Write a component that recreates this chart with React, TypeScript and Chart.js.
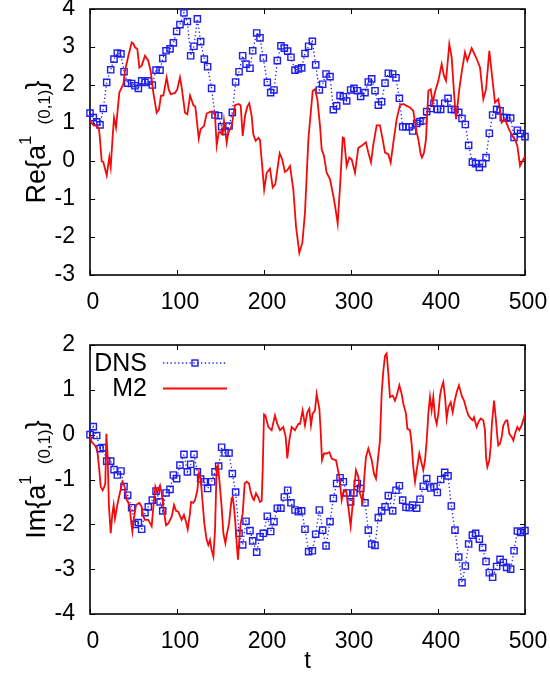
import React, { useEffect, useRef } from 'react';
import { Chart, registerables } from 'chart.js';
Chart.register(...registerables);

// ---------- data ----------
const dnsT = [
  0, 3.8, 7.7, 11.5, 15.3, 19.2, 23.8, 27.6, 31.4, 35.6,
  39.1, 43.3, 47.9, 51.7, 55.6, 59.4, 63.2, 67.0, 71.6, 75.9,
  80.5, 83.6, 87.4, 92.0, 95.8, 99.6, 103.4, 108.0, 111.9, 115.7,
  119.5, 123.4, 127.2, 131.4, 135.2, 139.8, 143.7, 147.9, 151.3, 155.2,
  159.8, 163.6, 167.4, 171.3, 175.5, 179.3, 183.9, 187.0, 191.6, 195.4,
  199.2, 203.8, 207.7, 211.5, 215.3, 219.5, 223.4, 227.2, 231.0, 235.6,
  239.5, 243.3, 247.1, 251.3,
  255.6, 259.4, 263.6, 267.4, 271.3, 275.9, 279.7, 283.5, 287.4, 291.2,
  295.0, 299.6, 303.4, 307.3, 311.1, 316.1, 319.9, 323.8, 327.6, 331.4,
  335.2, 339.1, 342.9, 347.9, 351.7, 355.6, 359.4, 363.2, 367.0, 370.9,
  375.5, 379.3, 383.1, 387.0, 391.6, 395.4, 399.2, 403.1, 407.7, 411.5,
  415.3, 419.5, 423.8, 427.6, 431.4, 435.2, 439.5, 443.3, 447.5, 451.3,
  455.2, 459.0, 462.8, 467.4, 471.3, 475.1, 478.9, 483.5, 487.4, 491.2,
  495.0, 500.0,
];

const dnsRe = [
  1.26, 1.14, 1.03, 0.95, 1.38, 2.07, 2.40, 2.68, 2.84, 2.82,
  2.35, 2.05, 2.04, 1.98, 1.91, 2.11, 2.07, 2.11, 2.00, 2.39,
  2.39, 2.70, 2.90, 2.95, 3.11, 3.41, 3.59, 3.90, 3.67, 2.77,
  3.02, 3.74, 3.14, 2.68, 2.48, 1.91, 1.21, 1.19, 0.90, 0.78,
  0.92, 1.28, 2.08, 2.35, 2.77, 2.55, 2.44, 2.90, 3.37, 3.24,
  2.71, 2.07, 1.80, 1.87, 2.64, 3.03, 2.97, 2.89, 2.73, 2.39,
  2.42, 2.45, 2.83, 3.02,
  3.15, 2.53, 1.87, 2.02, 2.29, 2.22, 1.35, 1.45, 1.72, 1.69,
  1.58, 1.87, 1.91, 1.85, 1.70, 1.80, 2.08, 2.16, 1.85, 1.47,
  1.56, 2.05, 2.31, 2.29, 2.19, 1.65, 0.90, 0.90, 0.90, 0.79,
  0.99, 1.04, 1.06, 1.30, 1.38, 1.52, 1.36, 1.36, 1.52, 1.65,
  1.36, 1.35, 1.28, 1.12, 0.96, 0.41, -0.03, -0.07, -0.17, -0.07,
  0.09, 0.73, 1.21, 1.36, 1.32, 1.14, 1.14, 1.13, 0.62, 0.81,
  0.72, 0.64,
];

const dnsIm = [
  0.0, 0.18, -0.02, -0.31, -0.29, -0.59, -0.59, -0.78, -0.90, -0.81,
  -1.16, -1.35, -1.63, -2.0, -1.96, -2.11, -1.74, -1.61, -1.46, -1.26,
  -1.50, -1.70, -1.30, -1.22, -0.90, -0.98, -0.68, -0.44, -0.83, -0.66,
  -0.44, -0.83, -0.99, -1.05, -1.20, -1.05, -0.83, -0.70, -0.28, -0.41,
  -0.41, -0.87, -1.28, -2.20, -2.46, -1.93, -2.14, -2.37, -2.62, -2.28,
  -2.20, -1.82, -2.16, -1.94, -1.64, -1.64, -1.39, -1.24, -1.52, -1.68,
  -1.72, -1.70, -2.11, -2.61,
  -2.59, -2.22, -1.68, -2.13, -2.48, -1.94, -1.42, -1.09, -0.96, -1.05,
  -1.30, -1.50, -1.30, -1.09, -1.20, -1.52, -2.13, -2.44, -2.47, -1.85,
  -1.70, -1.61, -1.36, -1.70, -1.24, -1.14, -1.46, -1.62, -1.63, -1.57,
  -1.64, -1.44, -1.15, -0.98, -1.19, -1.16, -1.29, -1.00, -0.84, -0.92,
  -1.59, -2.13, -2.73, -3.30, -2.93, -2.44, -2.24, -2.20, -2.33, -2.52,
  -2.83, -3.08, -3.18, -2.94, -2.78, -2.85, -2.96, -3.00, -2.59, -2.15,
  -2.18, -2.14,
];

const m2ReT = [
  0, 3.8, 8.4, 10.3, 11.5, 13.4, 15.3, 19.2, 22.2, 23.8,
  26.1, 27.6, 29.9, 33.7, 38.3, 40.2, 44.1, 47.9, 49.8, 51.7,
  54.4, 56.7, 59.4, 63.2, 67.0, 69.7, 72.8, 76.6, 79.3, 81.6,
  84.3, 88.1, 90.4, 92.7, 97.7, 100.4, 103.4, 105.4, 109.2, 111.9,
  115.0, 118.8, 121.1, 125.0, 127.2, 131.0, 134.1, 138.7, 141.8, 143.7,
  145.6, 147.9, 149.4, 152.5, 154.0, 157.1, 159.0, 162.8, 166.7, 170.9,
  173.2, 175.5, 178.2, 180.8, 183.1, 185.8, 187.7, 190.4, 193.5, 195.4,
  200.2, 203.1, 206.9, 210.0, 213.0, 218.0, 221.0, 224.0, 226.8, 229.9,
  233.7, 236.8, 240.6, 244.1, 247.1,
  251.0, 256.0, 258.6, 261.3, 264.4, 266.3, 269.0, 272.0, 275.9, 279.7,
  282.0, 284.7, 287.4, 290.5, 292.0, 295.0, 298.1, 300.8, 304.6, 308.4,
  312.3, 317.2, 319.9, 323.0, 325.7, 329.5, 333.3, 336.4, 339.1, 342.9,
  345.6, 348.7, 352.5, 356.3, 360.2, 364.0, 367.8, 371.6, 375.5, 377.4,
  380.1, 381.6, 383.9, 386.2, 388.9, 391.6, 393.9, 396.6, 400.4, 404.2,
  406.9, 409.2, 413.0, 415.7, 418.4, 420.7, 424.5, 427.2, 431.0, 433.7,
  438.7, 443.7, 448.3, 452.1, 455.2, 459.0, 461.7, 465.5, 469.3, 471.3,
  473.2, 477.0, 480.8, 485.4, 488.5, 491.2, 494.3, 496.2, 500.0,
];

const m2Re = [
  1.06, 0.94, 0.92, 0.84, 0.57, 0.0, -0.03, -0.38, 0.10, -0.16,
  0.66, 1.14, 0.88, 1.80, 2.02, 2.37, 2.77, 3.12, 3.09, 2.99,
  2.95, 2.46, 2.51, 2.77, 2.64, 2.37, 1.80, 1.27, 1.36, 1.72,
  1.72, 2.20, 1.89, 1.76, 1.79, 1.89, 2.20, 1.94, 1.27, 1.23,
  1.72, 1.47, 1.43, 0.59, 0.84, 0.92, 1.25, 1.30, 1.30, 1.19,
  0.41, 0.75, 0.76, 0.70, 1.06, 0.48, 0.75, 0.92, 1.47, 1.50,
  1.46, 0.66, 1.19, 1.43, 1.52, 1.19, 0.70, 0.53, 0.61, 0.55,
  -0.75, -0.31, -0.20, -0.70, -0.61, 0.20, 0.04, -0.29, -0.24, -0.13,
  -0.75, -1.72, -2.42, -2.15, -1.36,
  0.57, 1.85, 1.89, 1.63, 0.92, 0.31, 0.13, -0.31, -0.48, -0.92,
  -1.23, -1.65, -0.66, 0.62, 0.60, -0.13, 0.09, 0.04, -0.31, 0.35,
  0.40, 0.49, 0.22, -0.04, 0.44, 0.94, 0.94, 0.57, 0.22, 0.18,
  -0.04, 0.49, 1.10, 1.47, 1.50, 1.45, 1.41, 1.32, 0.75, 0.57,
  0.18, 0.09, 0.22, 0.57, 1.85, 1.89, 1.54, 1.82, 2.11, 2.55,
  2.24, 2.11, 3.08, 2.73, 1.80, 1.10, 1.89, 2.33, 2.86, 2.64,
  2.97, 2.73, 2.46, 1.63, 1.89, 2.90, 2.33, 1.54, 1.63, 1.36,
  1.01, 1.10, 0.88, 0.66, 0.57, 0.40, -0.13, -0.04, 0.13,
];

const m2ImT = [
  0, 1.9, 5.7, 8.4, 10.7, 12.3, 14.6, 16.5, 17.6, 18.8,
  20.3, 21.8, 23.8, 25.7, 27.2, 28.7, 31.0, 33.3, 37.2, 39.8,
  41.8, 43.7, 45.6, 47.5, 48.7, 50.2, 52.9, 56.7, 59.4, 61.3,
  63.2, 67.0, 70.9, 72.8, 75.1, 77.4, 80.5, 82.4, 84.3, 87.4,
  90.0, 93.9, 96.6, 98.9, 101.5, 105.4, 108.0, 110.3, 112.3, 114.9,
  116.1, 118.8, 120.7, 123.4, 125.3, 127.2, 129.5, 131.4, 134.1, 136.0,
  137.9, 139.8, 141.8, 143.7, 145.6, 147.1, 148.7, 151.3, 153.3, 155.6,
  157.1, 159.8, 162.8, 164.0, 165.5, 167.1, 168.6, 170.1, 171.6, 173.2,
  175.5, 177.8, 180.1, 182.8, 184.7, 187.0, 188.5, 190.8, 193.1, 195.4,
  197.3, 198.5, 200.0, 201.5, 205.0, 208.8, 212.6, 215.3, 218.4, 222.2,
  224.9, 226.8, 229.1, 231.8, 235.6, 239.5,
  241.4, 244.4, 247.1, 249.8, 252.1, 254.0, 255.9, 258.6, 260.5, 263.6,
  265.1, 266.7, 269.0, 272.0, 275.1, 277.8, 279.7, 282.8, 286.6, 289.3,
  291.2, 294.3, 296.9, 299.6, 302.7, 305.7, 308.4, 310.3, 313.4, 315.3,
  317.2, 319.9, 323.8, 326.4, 328.7, 331.4, 333.3, 335.2, 337.2, 339.1,
  341.0, 342.9, 344.8, 347.9, 350.6, 352.5, 355.6, 358.2, 360.2, 363.2,
  364.8, 367.8, 369.7, 371.6, 373.6, 375.5, 378.5, 381.2, 383.1, 385.1,
  387.0, 388.9, 390.8, 392.7, 394.6, 396.6, 398.5, 400.4, 402.3, 404.2,
  406.1, 408.1, 410.0, 411.9, 414.6, 416.9, 418.8, 421.5, 424.1, 427.2,
  429.9, 433.0, 434.9, 437.6, 439.9, 441.4, 444.4, 446.4, 449.0, 452.1,
  454.0, 455.2, 456.7, 459.0, 460.5, 461.7, 464.4, 466.3, 468.2, 469.3,
  471.3, 473.2, 475.1, 478.2, 479.7, 482.0, 484.7, 486.6, 488.5, 491.2,
  493.5, 496.2, 498.9, 500.0,
];

const m2Im = [
  -0.02, -0.16, -0.24, -0.35, -0.79, -1.16, -1.24, -1.16, -1.09, 0.02,
  -0.50, -1.61, -2.20, -1.76, -1.57, -1.87, -1.61, -1.39, -1.05, -1.16,
  -1.44, -1.50, -1.61, -1.98, -2.16, -1.90, -1.57, -1.52, -1.61, -1.83,
  -1.90, -1.90, -2.04, -1.61, -1.16, -1.28, -1.13, -1.31, -1.61, -2.02,
  -1.98, -1.83, -1.57, -1.70, -1.72, -1.90, -1.79, -1.94, -2.11, -1.76,
  -1.50, -1.52, -1.46, -1.24, -0.85, -0.98, -1.53, -1.98, -2.35, -2.46,
  -2.35, -2.57, -2.72, -2.13, -0.72, -0.68, -1.02, -1.61, -2.20, -2.42,
  -2.24, -1.98, -1.42, -1.39, -1.61, -1.98, -2.42, -2.79, -2.35, -1.98,
  -1.76, -1.09, -1.05, -1.09, -1.28, -1.42, -1.46, -1.31, -1.39, -1.50,
  -1.48, -0.79, 0.45, 0.43, 0.17, 0.10, 0.43, 0.24, 0.10, 0.17,
  -0.05, -0.53, -0.13, 0.17, 0.10, 0.24,
  0.24, 0.54, 0.21, 0.50, 0.58, 0.21, 0.47, 0.54, 0.91, 0.58,
  0.10, -0.57, -0.42, -0.42, -0.39, -0.53, -0.55, -0.57, -0.94, -1.46,
  -1.28, -1.24, -1.61, -2.04, -1.39, -0.79, -0.94, -1.31, -1.50, -0.94,
  -0.50, -0.31, -0.57, -0.87, -0.98, -0.46, -0.13, 0.91, 1.43, 1.76,
  1.81, 1.36, 0.84, 0.87, 0.76, 0.87, 1.10, 0.91, 0.69, 0.47,
  0.13, 0.10, -0.20, -0.72, -1.05, -0.79, -0.42, -0.64, -0.79, -0.57,
  -0.13, 0.47, 0.84, 0.54, 0.84, 0.39, 0.24, 0.47, 0.87, 1.06,
  1.17, 0.84, 0.36, 0.61, 0.72, 0.50, 0.72, 0.95, 1.10, 0.87,
  0.76, 0.54, 0.43, 0.36, 0.32, 0.39, 0.17, 0.28, 0.36, 0.32,
  0.10, -0.50, -0.72, -0.57, -0.28, 0.17, 0.76, 0.39, -0.05, -0.24,
  -0.20, -0.05, 0.21, 0.32, 0.32, 0.02, -0.05, -0.13, 0.02, 0.17,
  0.10, 0.21, 0.39, 0.47,
];

const xTicks = [0, 100, 200, 300, 400, 500];
const reTicks = [-3, -2, -1, 0, 1, 2, 3, 4];
const imTicks = [-4, -3, -2, -1, 0, 1, 2];
const seriesNames = ['DNS', 'M2'];
const xTitle = 't';

const BLUE = 'rgb(30,30,235)';
const RED = 'rgb(245,10,10)';
const FONT = "'Liberation Sans', Arial, sans-serif";

type Seg = { text: string; size: number; dy: number; gapBefore?: number };

function makePanel(canvas: HTMLCanvasElement, cfg: any) {
  const { padTop, axisH, yMin, yMax, yTicks, dns, m2, m2T, labelSegs, labelCenter, legend, showXTitle } = cfg;

  const framePlugin = {
    id: 'frame',
    beforeDatasetsDraw(chart: any) {
      const { ctx, chartArea: a, scales } = chart;
      ctx.save();
      ctx.strokeStyle = '#000';
      ctx.lineWidth = 1.6;
      ctx.strokeRect(a.left, a.top, a.right - a.left, a.bottom - a.top);
      ctx.lineWidth = 1;
      const tl = 5;
      ctx.beginPath();
      xTicks.forEach((v) => {
        const px = Math.round(scales.x.getPixelForValue(v)) + 0.5;
        ctx.moveTo(px, a.bottom);
        ctx.lineTo(px, a.bottom - tl);
        ctx.moveTo(px, a.top);
        ctx.lineTo(px, a.top + tl);
      });
      yTicks.forEach((v: number) => {
        const py = Math.round(scales.y.getPixelForValue(v)) + 0.5;
        ctx.moveTo(a.left, py);
        ctx.lineTo(a.left + tl, py);
        ctx.moveTo(a.right, py);
        ctx.lineTo(a.right - tl, py);
      });
      ctx.stroke();
      ctx.restore();
    },
    afterDraw(chart: any) {
      const { ctx } = chart;
      // y-axis label with super/subscripts, rotated
      ctx.save();
      ctx.fillStyle = '#000';
      ctx.textBaseline = 'alphabetic';
      ctx.textAlign = 'left';
      let total = 0;
      const widths = labelSegs.map((s: Seg) => {
        ctx.font = `${s.size}px ${FONT}`;
        const w = ctx.measureText(s.text).width;
        total += w + (s.gapBefore || 0);
        return w;
      });
      ctx.translate(45, labelCenter);
      ctx.rotate(-Math.PI / 2);
      let x = -total / 2;
      labelSegs.forEach((s: Seg, i: number) => {
        x += s.gapBefore || 0;
        ctx.font = `${s.size}px ${FONT}`;
        ctx.fillText(s.text, x, s.dy);
        x += widths[i];
      });
      ctx.restore();

      if (legend) {
        ctx.save();
        ctx.font = `25px ${FONT}`;
        ctx.fillStyle = '#000';
        ctx.textAlign = 'right';
        ctx.textBaseline = 'middle';
        const rows = [
          { name: seriesNames[0], y: 43, color: BLUE, dotted: true },
          { name: seriesNames[1], y: 68.5, color: RED, dotted: false },
        ];
        rows.forEach((r) => {
          ctx.fillText(r.name, 147, r.y + 1);
          ctx.beginPath();
          ctx.strokeStyle = r.color;
          if (r.dotted) {
            ctx.lineWidth = 1.3;
            ctx.setLineDash([1.3, 2.5]);
          } else {
            ctx.lineWidth = 1.8;
            ctx.setLineDash([]);
          }
          ctx.moveTo(163, r.y);
          ctx.lineTo(227, r.y);
          ctx.stroke();
          if (r.dotted) {
            ctx.setLineDash([]);
            ctx.lineWidth = 1.4;
            ctx.strokeRect(192, r.y - 3, 6, 6);
          }
        });
        ctx.restore();
      }
    },
  };

  return new Chart(canvas, {
    type: 'scatter',
    data: {
      datasets: [
        {
          label: seriesNames[1],
          data: m2T.map((t: number, i: number) => ({ x: t, y: m2[i] })),
          showLine: true,
          borderColor: RED,
          backgroundColor: RED,
          borderWidth: 1.8,
          pointRadius: 0,
          tension: 0,
        },
        {
          label: seriesNames[0],
          data: dnsT.map((t, i) => ({ x: t, y: dns[i] })),
          showLine: true,
          borderColor: BLUE,
          borderWidth: 1.3,
          borderDash: [1.3, 2.5],
          pointStyle: 'rect',
          pointRadius: 4.4,
          pointBorderWidth: 1.4,
          pointBorderColor: BLUE,
          pointBackgroundColor: 'rgba(0,0,0,0)',
          tension: 0,
          clip: false,
        },
      ],
    },
    options: {
      animation: false,
      responsive: false,
      maintainAspectRatio: false,
      events: [],
      layout: { padding: { top: padTop, right: 25, left: 0, bottom: 0 } },
      plugins: { legend: { display: false }, tooltip: { enabled: false }, title: { display: false } },
      scales: {
        x: {
          type: 'linear',
          min: 0,
          max: 500,
          afterFit: (s: any) => {
            s.height = axisH;
            s.paddingLeft = 0;
            s.paddingRight = 0;
          },
          afterBuildTicks: (s: any) => { s.ticks = xTicks.map((v) => ({ value: v })); },
          grid: { display: false, drawTicks: false },
          border: { display: false },
          ticks: { color: '#000', font: { family: FONT, size: 23 }, padding: 14, labelOffset: 3, maxRotation: 0, autoSkip: false },
          title: showXTitle
            ? { display: true, text: xTitle, color: '#000', font: { family: FONT, size: 24 }, padding: { top: 0, bottom: 2 } }
            : { display: false },
        },
        y: {
          type: 'linear',
          min: yMin,
          max: yMax,
          afterFit: (s: any) => {
            s.width = 90;
            s.paddingTop = 0;
            s.paddingBottom = 0;
          },
          afterBuildTicks: (s: any) => { s.ticks = yTicks.map((v: number) => ({ value: v })); },
          grid: { display: false, drawTicks: false },
          border: { display: false },
          ticks: { color: '#000', font: { family: FONT, size: 23 }, padding: 15 },
        },
      },
    },
    plugins: [framePlugin],
  } as any);
}

function Panel(props: any) {
  const ref = useRef<HTMLCanvasElement>(null);
  useEffect(() => {
    if (!ref.current) return;
    const chart = makePanel(ref.current, props);
    return () => chart.destroy();
  }, []);
  return (
    <canvas
      ref={ref}
      width={550}
      height={props.height}
      style={{ position: 'absolute', left: 0, top: props.top, width: 550, height: props.height, display: 'block' }}
    />
  );
}

export default function App() {
  const reLabel: Seg[] = [
    { text: 'Re{a', size: 27, dy: 0 },
    { text: '1', size: 17, dy: -14 },
    { text: '(0,1)', size: 17, dy: 5, gapBefore: 11 },
    { text: '}', size: 27, dy: 0 },
  ];
  const imLabel: Seg[] = [
    { text: 'Im{a', size: 27, dy: 0 },
    { text: '1', size: 17, dy: -14 },
    { text: '(0,1)', size: 17, dy: 5, gapBefore: 11 },
    { text: '}', size: 27, dy: 0 },
  ];
  return (
    <div style={{ position: 'fixed', left: 0, top: 0, width: 550, height: 678, background: '#fff', overflow: 'hidden' }}>
      <Panel
        top={0}
        height={320}
        padTop={9}
        axisH={45}
        yMin={-3}
        yMax={4}
        yTicks={reTicks}
        dns={dnsRe}
        m2={m2Re}
        m2T={m2ReT}
        labelSegs={reLabel}
        labelCenter={142}
        legend={false}
        showXTitle={false}
      />
      <Panel
        top={320}
        height={358}
        padTop={25}
        axisH={64}
        yMin={-4}
        yMax={2}
        yTicks={imTicks}
        dns={dnsIm}
        m2={m2Im}
        m2T={m2ImT}
        labelSegs={imLabel}
        labelCenter={159.5}
        legend={true}
        showXTitle={true}
      />
    </div>
  );
}
